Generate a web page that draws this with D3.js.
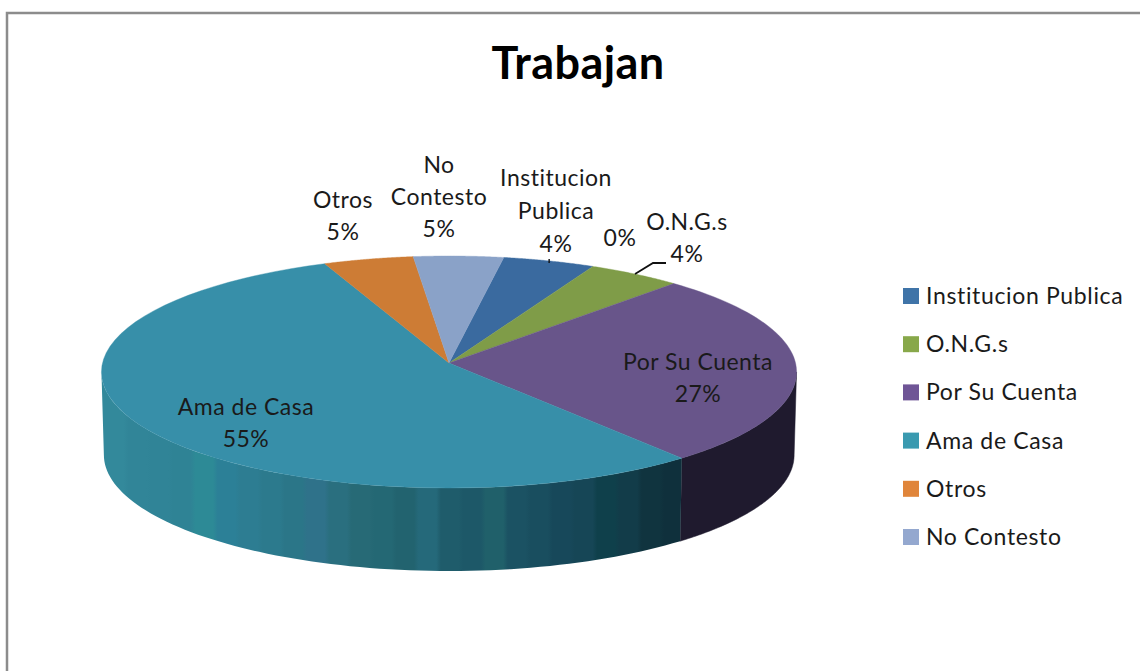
<!DOCTYPE html>
<html><head><meta charset="utf-8">
<script src="https://cdn.jsdelivr.net/npm/d3@7/dist/d3.min.js"></script>
<style>html,body{margin:0;padding:0;background:#fff}svg{display:block}text{font-family:Lato,"Open Sans",sans-serif;fill:#1a1a1a;font-variant-ligatures:none}</style>
</head><body><div id="c"></div>
<script>
const categories = ["Institucion Publica","O.N.G.s","Por Su Cuenta","Ama de Casa","Otros","No Contesto"];
const shares = [4.6,4.7,27.1,54.6,4.5,4.5];
const percentLabels = ["4%","4%","27%","55%","5%","5%"];
const hiddenZeroLabel = "0%";
const title = "Trabajan";
const topColors = ["#3a6a9f","#7f9c48","#68558a","#378fa9","#cd7c35","#8aa2c8"];
const legendColors = ["#3f74a8","#88a84a","#6f5596","#3a9ab0","#e0853a","#94a8cf"];
const porWallColor = "#1f1a2e";
const amaWallBands = ["#33899b","#318598","#308497","#2f8395","#2d8a96","#2c8097","#2d7d92","#2c7a8d","#2b7688","#2f728a","#2a6f7f","#276a76","#246874","#22636f","#25697a","#1f5c6b","#1d5868","#20606a","#1b5263","#194e5f","#17485a","#164656","#0f404b","#123c49","#10343f","#0f303c"];

const W=1140,H=671;
const svg=d3.select("#c").append("svg").attr("width",W).attr("height",H);
svg.append("path").attr("fill","none").attr("stroke","#8c8c8c").attr("stroke-width",2.5)
  .attr("d",`M7 ${H} V13 H${W}`);

const apex={x:449,y:363},Rx=346.5,Ry=115.3,k=0.0776,depth=83,bottomScale=0.993;
const rad=d=>d*Math.PI/180;
function proj(t){const u=Math.sin(t),v=Math.cos(t),w=1+k*v;return [apex.x+Rx*u/w,apex.y-Ry*v/w];}
function projB(t){const p=proj(t);return [apex.x+(p[0]-apex.x)*bottomScale,p[1]+depth];}
const line=d3.line();
const pie=d3.pie().sort(null).value(d=>d).startAngle(rad(9.8)).endAngle(rad(369.8));
const arcs=pie(shares);
const samples=(a,b,n=60)=>d3.range(n+1).map(i=>a+(b-a)*i/n);

// Side wall
const wallStart=rad(94.4), wallEnd=rad(265.6);
function wallPath(a,b){const s=samples(a,b,80);return line(s.map(t=>proj(t)).concat(s.slice().reverse().map(projB)))+"Z";}
const por=arcs[2],ama=arcs[3];
const x0=proj(wallEnd)[0], x1=proj(ama.startAngle)[0];
const grad=svg.append("defs").append("linearGradient").attr("id","amaWall").attr("gradientUnits","userSpaceOnUse")
  .attr("x1",x0).attr("x2",x1).attr("y1",0).attr("y2",0);
const n=amaWallBands.length;
grad.selectAll("stop").data(amaWallBands.flatMap((c,i)=>[[i/n+0.008,c],[(i+1)/n,c]])).join("stop")
  .attr("offset",d=>Math.min(d[0],1)).attr("stop-color",d=>d[1]);
svg.append("path").attr("d",wallPath(wallStart,por.endAngle)).attr("fill",porWallColor).attr("stroke",porWallColor).attr("stroke-width",.5);
svg.append("path").attr("d",wallPath(ama.startAngle,wallEnd)).attr("fill","url(#amaWall)");

// Top
svg.append("g").selectAll("path").data(arcs).join("path")
  .attr("d",d=>line([[apex.x,apex.y]].concat(samples(d.startAngle,d.endAngle).map(t=>proj(t))))+"Z")
  .attr("fill",(d,i)=>topColors[i]).attr("stroke",(d,i)=>topColors[i]).attr("stroke-width",.4);

// Leader marks
const instMid=(arcs[0].startAngle+arcs[0].endAngle)/2, ongMid=(arcs[1].startAngle+arcs[1].endAngle)/2;
const pI=proj(instMid), pO=proj(ongMid);
svg.append("path").attr("fill","none").attr("stroke","#111").attr("stroke-width",1.4)
  .attr("d",`M${pI[0]} ${pI[1]+2} v-4`);
svg.append("path").attr("fill","none").attr("stroke","#111").attr("stroke-width",1.8)
  .attr("d",`M${pO[0]} ${pO[1]} L${pO[0]+18} ${pO[1]-11} H${pO[0]+31}`);

// Title
svg.append("text").attr("x",578).attr("y",79).attr("text-anchor","middle")
  .attr("font-size",45).attr("font-weight",700).attr("letter-spacing",0.4).style("fill","#000").text(title);

// Data labels
const labelLayout=[
 {x:556,ys:[186,219,252],lines:["Institucion","Publica"]},
 {x:687,ys:[230,262],lines:["O.N.G.s"]},
 {x:698,ys:[370,402],lines:["Por Su Cuenta"]},
 {x:246,ys:[415,447],lines:["Ama de Casa"]},
 {x:343,ys:[208,240],lines:["Otros"]},
 {x:439,ys:[173,205,237],lines:["No","Contesto"]}
];
const lab=svg.append("g").attr("text-anchor","middle").attr("font-size",23).attr("letter-spacing",0.5);
labelLayout.forEach((l,i)=>{
  l.lines.concat([percentLabels[i]]).forEach((s,j)=>{
    lab.append("text").attr("x",l.x).attr("y",l.ys[j]).text(s);
  });
});
lab.append("text").attr("x",620).attr("y",246).text(hiddenZeroLabel);

// Legend
const ly=d3.scalePoint().domain(categories).range([296,537]);
const leg=svg.append("g").selectAll("g").data(categories).join("g").attr("transform",d=>`translate(0,${ly(d)})`);
leg.append("rect").attr("x",903).attr("y",-8).attr("width",16).attr("height",16).attr("fill",(d,i)=>legendColors[i]);
leg.append("text").attr("x",926).attr("y",8).attr("font-size",23).attr("letter-spacing",0.65).text(d=>d);
</script></body></html>
